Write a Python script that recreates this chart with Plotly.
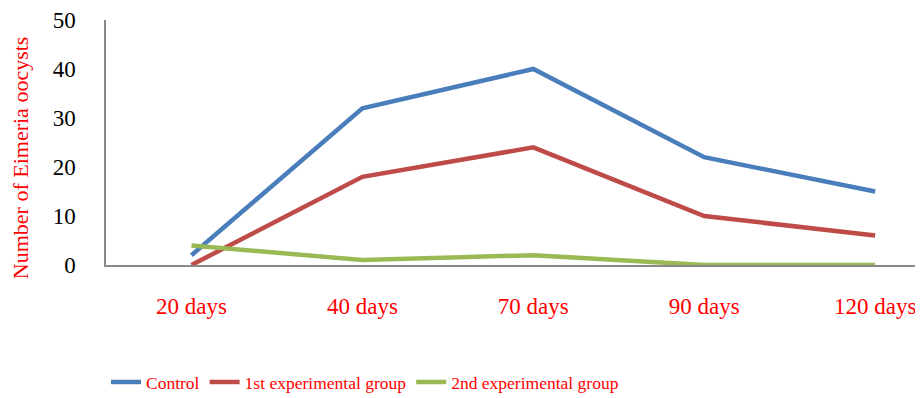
import plotly.graph_objects as go

categories = ["20 days", "40 days", "70 days", "90 days", "120 days"]
control = [2, 32, 40, 22, 15]
group1 = [0, 18, 24, 10, 6]
group2 = [4, 1, 2, 0, 0]
y_ticks = [0, 10, 20, 30, 40, 50]

FONT = "Liberation Serif, Times New Roman, serif"
RED = "#FF0000"

fig = go.Figure()
for name, vals, col in [
    ("Control", control, "#4A7EBB"),
    ("1st experimental group", group1, "#BE4B48"),
    ("2nd experimental group", group2, "#98B954"),
]:
    fig.add_trace(go.Scatter(x=categories, y=vals, mode="lines", name=name,
                             line=dict(color=col, width=4.5), cliponaxis=False))

# page body has an 8px default margin, so the figure is sized/offset to compensate
fig.update_layout(
    width=915, height=390,
    margin=dict(l=98, r=0, t=12, b=133, autoexpand=False),
    paper_bgcolor="white", plot_bgcolor="white",
    font=dict(family=FONT),
    showlegend=True,
    legend=dict(orientation="h", x=0.0, xanchor="left", y=-0.478, yanchor="middle",
                font=dict(family=FONT, size=17.5, color=RED), itemwidth=30,
                tracegroupgap=0),
    xaxis=dict(type="category", range=[-0.5, 4.28], showline=True, linecolor="#898989",
               linewidth=1.5, showgrid=False, ticks="", zeroline=False, automargin=False,
               tickfont=dict(family=FONT, size=23, color=RED), ticklabelstandoff=20),
    yaxis=dict(range=[0, 50], tickvals=y_ticks, showline=True, linecolor="#898989",
               linewidth=1.5, showgrid=False, ticks="", zeroline=False, automargin=False,
               tickfont=dict(family=FONT, size=23, color="black"), ticklabelstandoff=24),
    annotations=[dict(text="Number of Eimeria oocysts", textangle=-90, xref="paper", yref="paper",
                      x=-0.1053, y=0.44, xanchor="center", yanchor="middle", showarrow=False,
                      font=dict(family=FONT, size=22, color=RED))],
)

fig.write_html("out.html")
